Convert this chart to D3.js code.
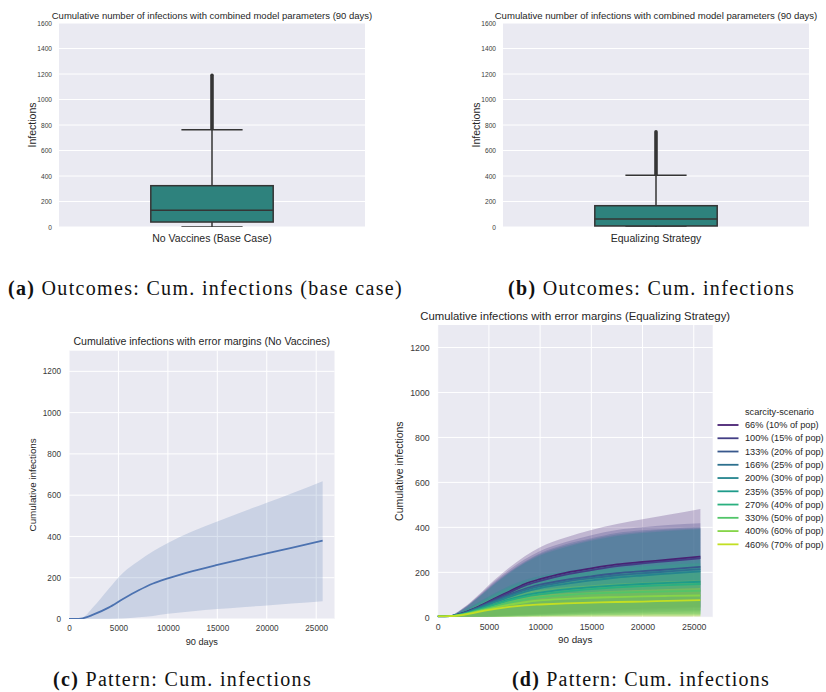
<!DOCTYPE html>
<html>
<head>
<meta charset="utf-8">
<script src="https://cdn.jsdelivr.net/npm/d3@7"></script>
<style>
  html, body { margin: 0; padding: 0; background: #fff; }
  svg { display: block; }
  text { font-family: "Liberation Sans", Arial, sans-serif; }
</style>
</head>
<body>
<svg id="fig" width="826" height="692"></svg>
<script>
// ---- box plot data: cumulative infections after 90 days ----
const boxTicks = [0, 200, 400, 600, 800, 1000, 1200, 1400, 1600];
const boxCategories = ["No Vaccines (Base Case)", "Equalizing Strategy"];
const boxWhiskerLow = [0, 0];
const boxQ1 = [39, 8];
const boxMedian = [131, 63];
const boxQ3 = [324, 167];
const boxWhiskerHigh = [763, 405];
const boxOutlierLow = [772, 412];
const boxOutlierHigh = [1190, 747];
const boxTitle = "Cumulative number of infections with combined model parameters (90 days)";

// ---- time series data ----
const lineTicksY = [0, 200, 400, 600, 800, 1000, 1200];
const lineTicksX = [0, 5000, 10000, 15000, 20000, 25000];
const steps = [0, 1200, 2500, 4000, 5500, 7000, 8500, 10000, 12500, 15000, 17500, 20000, 22500, 25650];

const noVacMean = [0, 2, 22, 55, 98, 138, 172, 197, 232, 262, 290, 318, 345, 380];
const noVacHigh = [0, 3, 60, 145, 225, 280, 328, 368, 425, 472, 518, 563, 608, 667];
const noVacLow  = [0, 0, 0, 0, 2, 8, 15, 25, 38, 48, 57, 66, 75, 86];

const scenarioLabels = [
  "66% (10% of pop)", "100% (15% of pop)", "133% (20% of pop)", "166% (25% of pop)",
  "200% (30% of pop)", "235% (35% of pop)", "270% (40% of pop)", "330% (50% of pop)",
  "400% (60% of pop)", "460% (70% of pop)"
];
const scenarioMean = [
  [4, 5, 20, 48, 82, 115, 148, 170, 198, 218, 235, 246, 256, 270],
  [4, 5, 19, 46, 79, 110, 141, 162, 190, 210, 228, 240, 250, 263],
  [4, 5, 18, 44, 74, 102, 127, 145, 166, 182, 196, 205, 213, 224],
  [4, 5, 17, 42, 70, 97, 121, 138, 159, 174, 187, 196, 204, 214],
  [4, 5, 16, 40, 66, 91, 113, 130, 149, 164, 177, 186, 194, 204],
  [4, 5, 15, 36, 58, 80, 98, 110, 124, 134, 142, 148, 153, 158],
  [4, 5, 14, 34, 55, 75, 91, 102, 115, 125, 133, 139, 143, 148],
  [4, 5, 13, 30, 48, 65, 79, 89, 99, 106, 110, 113, 115, 118],
  [4, 5, 12, 27, 42, 56, 67, 75, 82, 87, 90, 93, 95, 97],
  [4, 5, 11, 24, 36, 46, 53, 57, 62, 65, 68, 70, 73, 76]
];
const scenarioHigh = [
  [6, 8, 42, 100, 165, 222, 272, 312, 355, 388, 415, 436, 456, 482],
  [6, 8, 40, 96, 158, 212, 258, 295, 335, 365, 388, 400, 410, 418],
  [6, 8, 38, 92, 152, 204, 248, 285, 325, 352, 375, 387, 394, 400],
  [6, 8, 37, 90, 148, 200, 244, 280, 318, 346, 368, 381, 389, 396],
  [6, 8, 36, 88, 145, 196, 240, 275, 312, 340, 362, 375, 384, 392],
  [6, 8, 30, 68, 106, 140, 166, 184, 205, 220, 232, 241, 248, 255],
  [6, 8, 28, 64, 100, 132, 156, 173, 193, 207, 218, 227, 234, 240],
  [6, 8, 25, 56, 88, 114, 134, 147, 163, 174, 183, 190, 195, 200],
  [6, 8, 22, 49, 76, 97, 113, 123, 135, 143, 150, 155, 160, 165],
  [6, 8, 19, 42, 64, 80, 92, 99, 107, 113, 118, 122, 126, 130]
];
const scenarioLow = [
  [2, 2, 3, 4, 6, 9, 12, 16, 22, 28, 33, 38, 42, 47],
  [2, 2, 3, 4, 5, 8, 11, 14, 19, 24, 29, 33, 37, 41],
  [2, 2, 2, 3, 4, 6, 9, 12, 16, 20, 24, 27, 30, 33],
  [2, 2, 2, 3, 4, 6, 8, 10, 14, 17, 20, 23, 25, 28],
  [2, 2, 2, 3, 3, 5, 7, 9, 12, 15, 17, 19, 21, 23],
  [1, 1, 2, 2, 3, 4, 5, 7, 9, 11, 12, 14, 15, 16],
  [1, 1, 2, 2, 3, 4, 5, 6, 8, 9, 10, 11, 12, 13],
  [1, 1, 1, 2, 2, 3, 4, 5, 6, 7, 7, 8, 8, 9],
  [1, 1, 1, 1, 2, 2, 3, 3, 4, 4, 5, 5, 5, 6],
  [0, 0, 1, 1, 1, 1, 2, 2, 2, 3, 3, 3, 3, 3]
];

const captions = [
  ["(a)", " Outcomes: Cum. infections (base case)"],
  ["(b)", " Outcomes: Cum. infections"],
  ["(c)", " Pattern: Cum. infections"],
  ["(d)", " Pattern: Cum. infections"]
];

// ---- styling ----
const BG = "#EAEAF2";
const INK = "#262626";
const TICK_INK = "#3a3a3a";
const BOX_FILL = "#2e827d";
const BOX_LINE = "#353535";
const DEEP_BLUE = "#4c72b0";
const viridis = i => d3.interpolateViridis((i + 1) / (scenarioLabels.length + 1));

const svg = d3.select("#fig");
svg.append("rect").attr("width", 826).attr("height", 692).attr("fill", "#fff");

let clipId = 0;
function makeClip(f) {
  const id = "clip" + (clipId++);
  svg.append("clipPath").attr("id", id).append("rect")
    .attr("x", f.left).attr("y", f.top)
    .attr("width", f.right - f.left).attr("height", f.bottom - f.top);
  return "url(#" + id + ")";
}

// scale a text's font size so that it spans the given width
function fitWidth(t, width) {
  const fs = parseFloat(t.attr("font-size"));
  const w = t.node().getComputedTextLength();
  t.attr("font-size", fs * width / w);
  return t;
}

function styleAxis(sel, size) {
  sel.select(".domain").remove();
  sel.selectAll("text").attr("font-size", size).attr("fill", TICK_INK)
    .attr("font-family", '"Liberation Sans", Arial, sans-serif');
}

// ---- box plot panel ----
function boxPanel(i, f) {
  const g = svg.append("g");
  const y = d3.scaleLinear().domain([0, 1600]).range([f.bottom, f.top]);
  const x = d3.scaleBand().domain([boxCategories[i]]).range([f.left, f.right]);
  const cx = x(boxCategories[i]) + x.bandwidth() / 2;
  const bw = x.bandwidth() * 0.4;
  const clip = makeClip(f);

  g.append("rect").attr("x", f.left).attr("y", f.top)
    .attr("width", f.right - f.left).attr("height", f.bottom - f.top).attr("fill", BG);
  g.selectAll(".grid").data(boxTicks).join("line")
    .attr("x1", f.left).attr("x2", f.right)
    .attr("y1", d => y(d)).attr("y2", d => y(d))
    .attr("stroke", "#fff").attr("stroke-width", 1);

  const m = g.append("g").attr("clip-path", clip)
    .attr("stroke", BOX_LINE).attr("stroke-width", 1.5).attr("fill", "none");
  // whiskers
  m.append("line").attr("x1", cx).attr("x2", cx)
    .attr("y1", y(boxQ3[i])).attr("y2", y(boxWhiskerHigh[i]));
  m.append("line").attr("x1", cx).attr("x2", cx)
    .attr("y1", y(boxQ1[i])).attr("y2", y(boxWhiskerLow[i]));
  // caps
  [boxWhiskerHigh[i], boxWhiskerLow[i]].forEach(v => {
    m.append("line").attr("x1", cx - bw / 4).attr("x2", cx + bw / 4)
      .attr("y1", y(v)).attr("y2", y(v));
  });
  // box
  m.append("rect").attr("x", cx - bw / 2).attr("width", bw)
    .attr("y", y(boxQ3[i])).attr("height", y(boxQ1[i]) - y(boxQ3[i]))
    .attr("fill", BOX_FILL);
  m.append("line").attr("x1", cx - bw / 2).attr("x2", cx + bw / 2)
    .attr("y1", y(boxMedian[i])).attr("y2", y(boxMedian[i]));
  // densely packed outliers
  m.append("line").attr("x1", cx).attr("x2", cx)
    .attr("y1", y(boxOutlierLow[i])).attr("y2", y(boxOutlierHigh[i]))
    .attr("stroke-width", 3.6).attr("stroke-linecap", "round");

  const ya = g.append("g").attr("transform", `translate(${f.left},0)`)
    .call(d3.axisLeft(y).tickValues(boxTicks).tickFormat(d3.format("d")).tickSize(0).tickPadding(7));
  styleAxis(ya, 6.6);
  const xa = g.append("g").attr("transform", `translate(0,${f.bottom})`)
    .call(d3.axisBottom(x).tickSize(0).tickPadding(8));
  styleAxis(xa, 10.5);
  xa.selectAll("text").attr("fill", INK);

  fitWidth(g.append("text").attr("x", (f.left + f.right) / 2).attr("y", 18.5)
    .attr("text-anchor", "middle").attr("font-size", 10).attr("fill", INK).text(boxTitle), f.titleW);
  g.append("text").attr("transform", `translate(${f.left - 27},${(f.top + f.bottom) / 2}) rotate(-90)`)
    .attr("text-anchor", "middle").attr("dy", "0.35em").attr("font-size", 10.5).attr("fill", INK)
    .text("Infections");
}

// ---- time series panel ----
function linePanel(f, title, drawSeries) {
  const g = svg.append("g");
  const x = d3.scaleLinear().domain([0, 26850]).range([f.left, f.right]);
  const y = d3.scaleLinear().domain([0, 1300]).range([f.bottom, f.top]);
  const clip = makeClip(f);
  const s = f.scale;

  g.append("rect").attr("x", f.left).attr("y", f.top)
    .attr("width", f.right - f.left).attr("height", f.bottom - f.top).attr("fill", BG);
  g.selectAll(".gy").data(lineTicksY).join("line")
    .attr("x1", f.left).attr("x2", f.right)
    .attr("y1", d => y(d)).attr("y2", d => y(d))
    .attr("stroke", "#fff").attr("stroke-width", 1);
  g.selectAll(".gx").data(lineTicksX).join("line")
    .attr("y1", f.top).attr("y2", f.bottom)
    .attr("x1", d => x(d)).attr("x2", d => x(d))
    .attr("stroke", "#fff").attr("stroke-width", 1);

  const m = g.append("g").attr("clip-path", clip);
  drawSeries(m, x, y);

  const ya = g.append("g").attr("transform", `translate(${f.left},0)`)
    .call(d3.axisLeft(y).tickValues(lineTicksY).tickFormat(d3.format("d")).tickSize(0).tickPadding(8));
  styleAxis(ya, 8.2 * s);
  const xa = g.append("g").attr("transform", `translate(0,${f.bottom})`)
    .call(d3.axisBottom(x).tickValues(lineTicksX).tickFormat(d3.format("d")).tickSize(0).tickPadding(6));
  styleAxis(xa, 8.2 * s);

  fitWidth(g.append("text").attr("x", (f.left + f.right) / 2).attr("y", f.top - 5.5)
    .attr("text-anchor", "middle").attr("font-size", 10).attr("fill", INK).text(title), f.titleW);
  g.append("text").attr("x", (f.left + f.right) / 2).attr("y", f.bottom + 25.5)
    .attr("text-anchor", "middle").attr("font-size", 9.2 * s).attr("fill", INK).text("90 days");
  g.append("text").attr("transform", `translate(${f.left - f.labelOff},${(f.top + f.bottom) / 2}) rotate(-90)`)
    .attr("text-anchor", "middle").attr("dy", "0.35em").attr("font-size", 9.8 * s).attr("fill", INK)
    .text("Cumulative infections");
  return { x, y };
}

boxPanel(0, { left: 59, right: 365, top: 23, bottom: 227, titleW: 321 });
boxPanel(1, { left: 503, right: 809, top: 23, bottom: 227, titleW: 323 });

linePanel({ left: 69, right: 334.5, top: 350.7, bottom: 619, scale: 1, titleW: 257, labelOff: 36 },
  "Cumulative infections with error margins (No Vaccines)",
  (m, x, y) => {
    const area = d3.area().curve(d3.curveMonotoneX)
      .x((d, k) => x(steps[k])).y0((d, k) => y(noVacLow[k])).y1(d => y(d));
    m.append("path").datum(noVacHigh).attr("d", area)
      .attr("fill", DEEP_BLUE).attr("fill-opacity", 0.2);
    const line = d3.line().curve(d3.curveMonotoneX)
      .x((d, k) => x(steps[k])).y(d => y(d));
    m.append("path").datum(noVacMean).attr("d", line)
      .attr("fill", "none").attr("stroke", DEEP_BLUE).attr("stroke-width", 1.8);
  });

linePanel({ left: 437.7, right: 712.7, top: 325, bottom: 617.3, scale: 1.07, titleW: 310, labelOff: 38 },
  "Cumulative infections with error margins (Equalizing Strategy)",
  (m, x, y) => {
    // error bands first, mean lines drawn over them
    scenarioLabels.forEach((lab, i) => {
      const area = d3.area().curve(d3.curveMonotoneX)
        .x((d, k) => x(steps[k])).y0((d, k) => y(scenarioLow[i][k])).y1(d => y(d));
      m.append("path").datum(scenarioHigh[i]).attr("d", area)
        .attr("fill", viridis(i)).attr("fill-opacity", 0.26);
    });
    scenarioLabels.forEach((lab, i) => {
      const line = d3.line().curve(d3.curveMonotoneX)
        .x((d, k) => x(steps[k])).y(d => y(d));
      m.append("path").datum(scenarioMean[i]).attr("d", line)
        .attr("fill", "none").attr("stroke", viridis(i)).attr("stroke-width", 1.8);
    });
  });

// legend for scarcity scenarios
const lg = svg.append("g").attr("transform", "translate(717.5,411.7)");
lg.append("text").attr("x", 27.5).attr("y", 0).attr("dy", "0.35em")
  .attr("font-size", 9.2).attr("fill", INK).text("scarcity-scenario");
scenarioLabels.forEach((lab, i) => {
  const yy = 13.3 + i * 13.26;
  lg.append("line").attr("x1", 0).attr("x2", 21).attr("y1", yy).attr("y2", yy)
    .attr("stroke", viridis(i)).attr("stroke-width", 1.8);
  lg.append("text").attr("x", 27.5).attr("y", yy).attr("dy", "0.35em")
    .attr("font-size", 9.2).attr("fill", INK).text(lab);
});

// sub-figure captions
const capPos = [
  { x: 8, y: 295, w: 395 },
  { x: 508, y: 295, w: 287 },
  { x: 53, y: 686, w: 259 },
  { x: 512, y: 686, w: 258 }
];
captions.forEach((c, i) => {
  const p = capPos[i];
  const t = svg.append("text").attr("x", p.x).attr("y", p.y)
    .attr("font-size", 20).attr("fill", "#111")
    .style("font-family", '"Liberation Serif", "DejaVu Serif", serif');
  t.append("tspan").attr("font-weight", "bold").text(c[0]);
  t.append("tspan").text(c[1]);
  const w = t.node().getComputedTextLength();
  const n = (c[0] + c[1]).length;
  t.attr("letter-spacing", (p.w - w) / n);
});
</script>
</body>
</html>
